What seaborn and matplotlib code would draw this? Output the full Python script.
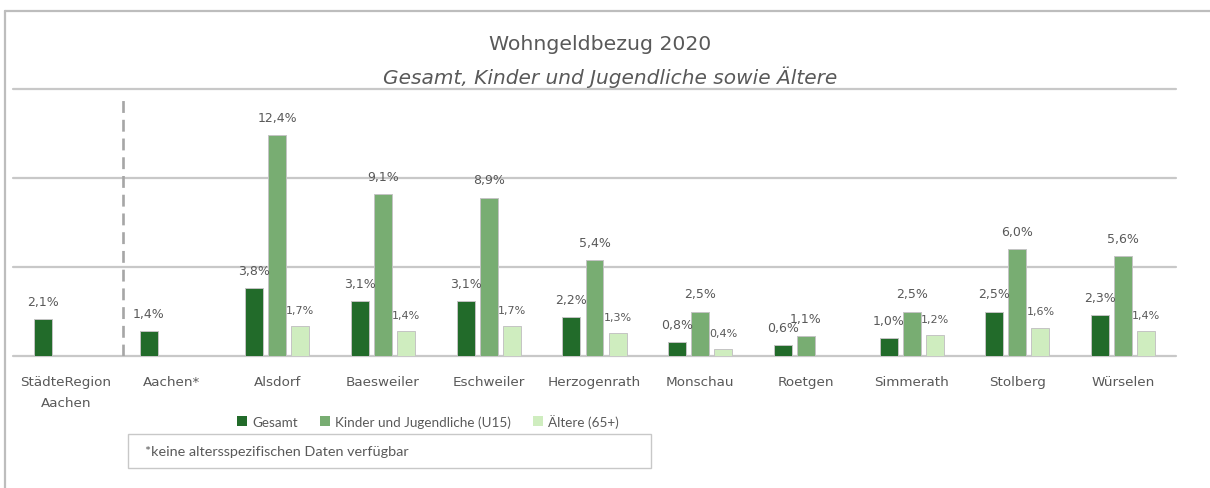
import numpy as np
import pandas as pd
import matplotlib
matplotlib.use("Agg")
import matplotlib.pyplot as plt
from matplotlib.patches import Patch, Rectangle
from matplotlib.lines import Line2D
import seaborn as sns

# Wohngeldbezug 2020 in Prozent
regionen = ["StädteRegion\nAachen", "Aachen*", "Alsdorf", "Baesweiler", "Eschweiler",
            "Herzogenrath", "Monschau", "Roetgen", "Simmerath", "Stolberg", "Würselen"]
gesamt = [2.1, 1.4, 3.8, 3.1, 3.1, 2.2, 0.8, 0.6, 1.0, 2.5, 2.3]
kinder_u15 = [np.nan, np.nan, 12.4, 9.1, 8.9, 5.4, 2.5, 1.1, 2.5, 6.0, 5.6]
aeltere_65 = [np.nan, np.nan, 1.7, 1.4, 1.7, 1.3, 0.4, np.nan, 1.2, 1.6, 1.4]
gruppen = ["Gesamt", "Kinder und Jugendliche (U15)", "Ältere (65+)"]
farben = ["#226b2a", "#78ad72", "#cfedbf"]

df = pd.DataFrame({"Region": regionen, gruppen[0]: gesamt,
                   gruppen[1]: kinder_u15, gruppen[2]: aeltere_65})
long = df.melt(id_vars="Region", var_name="Gruppe", value_name="Anteil")

sns.set_theme(style="white")
plt.rcParams["font.family"] = ["DejaVu Sans"]
grau = "#595959"

W, H = 1210, 489
fig = plt.figure(figsize=(W / 100, H / 100), dpi=100)
ax = fig.add_axes([13 / W, 1 - 357 / H, (1176 - 13) / W, (357 - 90) / H])

sns.barplot(data=long, x="Region", y="Anteil", hue="Gruppe", hue_order=gruppen,
            order=regionen, palette=farben, saturation=1, width=0.654, gap=0.22,
            edgecolor="#c4c4c4", linewidth=0.7, legend=False, ax=ax, zorder=3)

ax.set_xlim(-0.5, len(regionen) - 0.5)
ax.set_ylim(0, 15)
ax.set_yticks([])
ax.set_xlabel("")
ax.set_ylabel("")
for s in ax.spines.values():
    s.set_visible(False)
for yv in [0, 5, 10, 15]:
    ax.axhline(yv, color="#c8c8c8", lw=1.6, clip_on=False, zorder=1)
ax.tick_params(axis="x", length=0, pad=14, labelsize=9.7, colors=grau)
for t in ax.get_xticklabels():
    t.set_linespacing(1.75)

# Trennlinie zwischen StädteRegion und Kommunen
ax.plot([0.54, 0.54], [0, 14.65], color="#a6a6a6", lw=1.9, ls=(0, (4.5, 2.6)),
        zorder=2, solid_capstyle="butt")

# Wertebeschriftungen
for i, cont in enumerate(ax.containers):
    labels = [f"{b.get_height():.1f}".replace(".", ",") + "%" for b in cont]
    ax.bar_label(cont, labels=labels, padding=8,
                 fontsize=8.0 if i == 2 else 9.0, color=grau)

# Titel
fig.text(600 / W, 1 - 44 / H, "Wohngeldbezug 2020", ha="center", va="center",
         fontsize=14.7, color=grau)
fig.text(610 / W, 1 - 77 / H, "Gesamt, Kinder und Jugendliche sowie Ältere",
         ha="center", va="center", fontsize=14.5, style="italic", color=grau)

# Legende
handles = [Patch(facecolor=c, edgecolor="none") for c in farben]
fig.legend(handles, gruppen, loc="center", bbox_to_anchor=(428 / W, 1 - 422 / H),
           ncol=3, frameon=False, handlelength=0.75, handleheight=0.75,
           handletextpad=0.4, columnspacing=1.6, prop={"family": "Lato", "size": 9.7},
           labelcolor=grau)

# Hinweisbox
fig.patches.append(Rectangle((128 / W, 1 - 469 / H), 523 / W, 34 / H,
                             transform=fig.transFigure, facecolor="white",
                             edgecolor="#c8c8c8", lw=1))
fig.text(145 / W, 1 - 452 / H, "*keine altersspezifischen Daten verfügbar",
         ha="left", va="center", fontsize=10.4, family="Lato", color=grau)

# Rahmen
fig.lines.append(Line2D([5 / W, 5 / W], [0, 1 - 12 / H], transform=fig.transFigure,
                        color="#bdbdbd", lw=1.6))
fig.lines.append(Line2D([5 / W, 1], [1 - 12 / H, 1 - 12 / H], transform=fig.transFigure,
                        color="#bdbdbd", lw=1.6))

fig.savefig("out.png", dpi=100, facecolor="white")
